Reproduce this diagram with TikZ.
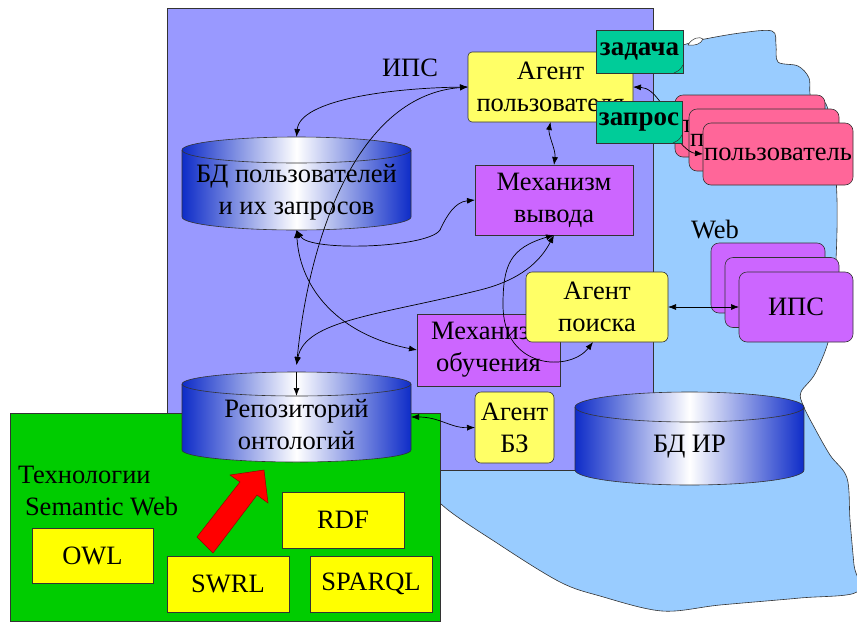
\documentclass[tikz,border=0pt]{standalone}
\usepackage{fontspec}
\setmainfont{Liberation Serif}
\usetikzlibrary{arrows.meta,calc}

\definecolor{ipsbg}{HTML}{9999FF}
\definecolor{webbg}{HTML}{99CCFF}
\definecolor{agentyel}{HTML}{FFFF66}
\definecolor{mechvio}{HTML}{CC66FF}
\definecolor{userpink}{HTML}{FF6699}
\definecolor{tagteal}{HTML}{00CC99}
\definecolor{swgreen}{HTML}{00CC00}
\definecolor{swyel}{HTML}{FFFF00}
\definecolor{cylblue}{RGB}{14,44,200}
\definecolor{edge}{HTML}{333333}

% database cylinder: x left, x right, top centre y, bottom centre y, half height of the ellipses
\newcommand\dbcyl[5]{%
  \pgfmathsetmacro\cylrx{(#2-#1)/2}%
  \shade[draw=edge, line width=0.6pt, left color=cylblue, right color=cylblue, middle color=white]
    (#1,#3) -- (#1,#4)
    arc[start angle=180, end angle=360, x radius=\cylrx pt, y radius=#5pt]
    -- (#2,#3)
    arc[start angle=0, end angle=180, x radius=\cylrx pt, y radius=#5pt] -- cycle;
  \draw[edge, line width=0.6pt] (#1,#3)
    arc[start angle=180, end angle=360, x radius=\cylrx pt, y radius=#5pt];
}

\begin{document}
\begin{tikzpicture}[x=1pt,y=-1pt,
  every node/.style={inner sep=0pt, outer sep=0pt, align=center,
    font=\fontsize{26.5}{32}\selectfont},
  sz/.style 2 args={minimum width=#1pt, minimum height=#2pt},
  agent/.style={draw=edge, line width=0.6pt, fill=agentyel, rounded corners=6pt},
  mech/.style={draw=edge, line width=0.6pt, fill=mechvio},
  userbox/.style={draw=edge, line width=0.6pt, fill=userpink, rounded corners=8pt, sz={150}{62}},
  ipsbox/.style={draw=edge, line width=0.6pt, fill=mechvio, rounded corners=8pt, sz={114}{70}},
  tag/.style={draw=edge, line width=0.6pt, fill=tagteal,
    font=\fontsize{27}{32}\selectfont\bfseries},
  swbox/.style={draw=edge, line width=0.6pt, fill=swyel, sz={122}{56}},
  holder/.style={draw=none, fill=none},
  conn/.style={draw=black, line width=0.7pt,
    {Latex[length=8pt,width=6pt]}-{Latex[length=8pt,width=6pt]}},
  connto/.style={draw=black, line width=0.7pt, -{Latex[length=8pt,width=6pt]}},
  curl/.style={draw=edge, line width=0.5pt},
]
\useasboundingbox (0,0) rectangle (857,622);

% the Web
\draw[fill=webbg, draw=edge, line width=0.6pt] plot[smooth cycle, tension=0.55] coordinates {
  (640,55) (683,45) (700,40) (740,33) (772,31) (776,45) (778,62) (798,66)
  (809,78) (811,97) (826,104) (833,140) (837,200) (836,260) (831,330)
  (816,372) (801,392) (803,405) (813,425) (830,455) (847,478) (850,520)
  (854,565) (857,592) (800,598) (720,605) (662,611) (600,596) (560,582)
  (500,545) (440,503) (425,470) (500,445) (620,420) (635,250)};
\draw[curl, fill=white] (688,45) .. controls (692,38) and (700,36) .. (703,39)
  .. controls (701,44) and (695,46) .. (688,45);

% search system area
\draw[fill=ipsbg, draw=edge, line width=0.6pt] (167,8) rectangle (653,470);
% Semantic Web technologies area
\draw[fill=swgreen, draw=edge, line width=0.6pt] (10,413) rectangle (440,621);

\node (ipslabel) at (410,68) {ИПС};
\node (weblabel) at (715,230) {Web};
\node[anchor=west, align=left] (swtitle) at (18,491) {Технологии\\\hspace*{7pt}Semantic Web};

% databases
\dbcyl{182}{411}{150}{217}{13}
\dbcyl{182}{411}{384}{450}{12}
\dbcyl{575}{804}{407}{470}{15}
\node[holder, sz={229}{93}] (bdu) at (296.5,183.5) {};
\node (bdutext) at (296.5,192.5) {БД пользователей\\и их запросов};
\node[holder, sz={229}{90}] (repo) at (296.5,417) {};
\node (repotext) at (296.5,425) {Репозиторий\\онтологий};
\node[holder, sz={229}{93}] (bdir) at (689.5,438.5) {};
\node (bdirtext) at (689.5,447) {БД ИР};

% agents and mechanisms
\node[mech, sz={158}{70}] (mv) at (554,200) {Механизм\\вывода};
\node[mech, sz={143}{72}] (mo) at (488.5,350) {Механизм\\обучения};
\node[agent, sz={142}{70}] (ap) at (597,307) {Агент\\поиска};
\node[agent, sz={79}{71}] (abz) at (514.5,427.5) {Агент\\БЗ};

% users
\node[userbox] (u1) at (750,126) {пользователь};
\node[userbox] (u2) at (764,140) {пользователь};
\node[userbox] (u3) at (778,154) {пользователь};
\node[agent, rounded corners=4pt, sz={165}{70}] (agu) at (550.5,87) {Агент\\пользователя};

% other search systems
\node[ipsbox] (i1) at (768,278) {};
\node[ipsbox] (i2) at (782,292.5) {};
\node[ipsbox] (i3) at (796,307) {ИПС};

% Semantic Web languages
\node[swbox, sz={121}{55}] (owl) at (92.5,555.5) {OWL};
\node[swbox] (swrl) at (228,584) {SWRL};
\node[swbox] (rdf) at (343,520) {RDF};
\node[swbox] (sparql) at (371,584) {SPARQL};
\filldraw[fill=red, draw=red!60!black, line width=0.5pt]
  (197,537) -- (240,482) -- (230,475) -- (264,470) -- (268,503) -- (257,495) -- (213,553) -- cycle;

% connectors
\draw[conn] (agu.west) .. controls (390,88) and (300,100) .. (bdu.north);
\draw[conn] (agu.west) .. controls (360,95) and (310,230) .. ([yshift=7pt]repo.north);
\draw[connto] (repo.north) -- ([yshift=-24pt]repo.north);
\draw[conn] (bdu.south) .. controls (310,252) and (428,248) .. (440,230)
  .. controls (447,215) and (455,202) .. (mv.west);
\draw[conn] (bdu.south) .. controls (300,290) and (340,335) .. (mo.west);
\draw[conn] (agu.south) .. controls (548,135) and (556,150) .. (mv.north);
\draw[conn] (mv.south) .. controls (540,262) and (520,280) .. (480,290)
  .. controls (380,315) and (305,320) .. ([yshift=7pt]repo.north);
\draw[conn] (mv.south) .. controls (510,248) and (503,265) .. (503,305)
  .. controls (503,370) and (570,372) .. ([xshift=-4pt]ap.south);
\draw[conn] (ap.east) -- (i3.west);
\draw[conn] (repo.east) .. controls (440,417) and (450,428) .. (abz.west);
\draw[connto] (u1.west) .. controls (665,110) and (655,88) .. (agu.east);
\draw[connto] ([yshift=-18pt]agu.east) .. controls (665,112) and (680,152) .. (u3.west);

% message tags
\node[tag, sz={87}{43}] (zad) at (639.5,51.5) {задача};
\node[tag, sz={86}{42}] (zap) at (639,122) {запрос};
\draw[curl] ([xshift=-9pt]zad.south east) .. controls ([xshift=-3pt,yshift=3pt]zad.south east) .. ([yshift=8pt]zad.south east);
\draw[curl] ([xshift=-9pt]zap.south east) .. controls ([xshift=-3pt,yshift=3pt]zap.south east) .. ([yshift=8pt]zap.south east);
\end{tikzpicture}
\end{document}
